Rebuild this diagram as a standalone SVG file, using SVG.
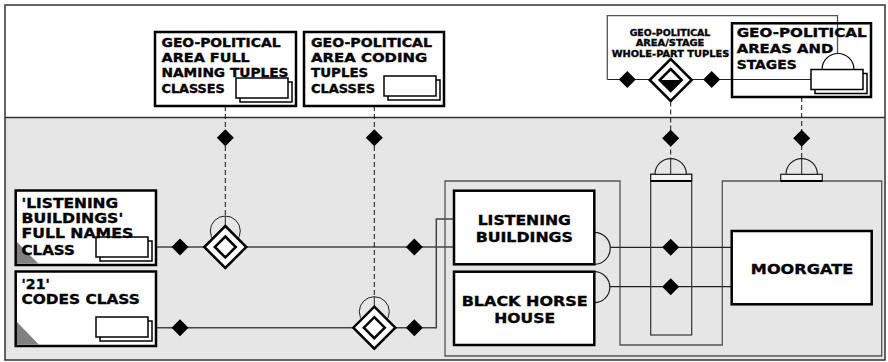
<svg xmlns="http://www.w3.org/2000/svg" width="888" height="362" viewBox="0 0 888 362">
<style>
.t{font-family:"DejaVu Sans","Liberation Sans",sans-serif;font-weight:bold;fill:#000;stroke:#000;stroke-width:0.35}
.box{fill:#fff;stroke:#000;stroke-width:2.5}
.frame{fill:none;stroke:#555;stroke-width:1.3}
.ln{fill:none;stroke:#444;stroke-width:1.5}
.ln2{fill:none;stroke:#222;stroke-width:1.2}
.dash{fill:none;stroke:#111;stroke-width:1;stroke-dasharray:5,3}
.card{fill:#fff;stroke:#000;stroke-width:1.5}
.corner{fill:#808080}
.dome{fill:#e6e6e6;stroke:#222;stroke-width:1.2}
</style>
<defs>
<path id="sd" d="M0,-8.5 L8.5,0 L0,8.5 L-8.5,0 Z" fill="#000"/>
<g id="bd"><path d="M0,-21 L21,0 L0,21 L-21,0 Z" fill="#fff" stroke="#000" stroke-width="2.5"/><path d="M0,-10.5 L10.5,0 L0,10.5 L-10.5,0 Z" fill="#fff" stroke="#000" stroke-width="2.5"/></g>
<g id="cards"><rect x="4" y="4" width="52" height="20" class="card"/><rect x="0" y="0" width="52" height="20" class="card"/></g>
</defs>
<rect x="0" y="0" width="888" height="362" fill="#fff"/>
<rect x="5" y="117.5" width="880" height="243" fill="#e6e6e6"/>
<rect x="5" y="5" width="880" height="355" fill="none" stroke="#333" stroke-width="1.5"/>
<line x1="5" y1="117.5" x2="885" y2="117.5" stroke="#333" stroke-width="1.5"/>

<g id="group-frames">
<polygon class="frame" points="445,181 620,181 620,345 722.3,345 722.3,181 881.7,181 881.7,356 445,356"/>
</g>

<g id="connectors">
<path class="ln" d="M152,247 H454"/>
<path class="ln" d="M152,327.7 H436.3 V219 H454"/>
<path class="ln2" d="M594.3,232.3 A16,16 0 0 1 594.3,264.3"/>
<path class="ln2" d="M610.3,247.3 H731.7"/>
<path class="ln2" d="M594.3,271.7 A15.5,15.5 0 0 1 594.3,302.7"/>
<path class="ln2" d="M609.8,286.7 H731.7"/>
<path class="dash" d="M225.3,106 V216"/>
<path class="dash" d="M374.3,106 V296.7"/>
<path class="dash" d="M670.7,101.5 V158.6"/>
<path class="dash" d="M801.7,97 V158.6"/>
<line x1="225.3" y1="216" x2="225.3" y2="226" stroke="#222" stroke-width="1"/>
<line x1="374.3" y1="296.7" x2="374.3" y2="306.7" stroke="#222" stroke-width="1"/>
<circle cx="225.3" cy="231" r="15" fill="none" stroke="#222" stroke-width="1"/>
<circle cx="374.3" cy="311.7" r="15" fill="none" stroke="#222" stroke-width="1"/>
<use href="#sd" x="180" y="247"/>
<use href="#sd" x="414.3" y="247"/>
<use href="#sd" x="180" y="327.7"/>
<use href="#sd" x="414.3" y="327.7"/>
<use href="#sd" x="225.3" y="137.7"/>
<use href="#sd" x="374.3" y="137.7"/>
<use href="#sd" x="670.7" y="138.3"/>
<use href="#sd" x="801.7" y="138.3"/>
<use href="#sd" x="670.7" y="247.3"/>
<use href="#sd" x="670.7" y="286.7"/>
<use href="#bd" x="225.3" y="247"/>
<use href="#bd" x="374.3" y="327.7"/>
</g>

<g id="whole-part-column">
<rect x="650.7" y="174.3" width="41" height="160.7" fill="none" stroke="#333" stroke-width="1.2"/>
<rect x="650.7" y="174.3" width="41" height="6.7" fill="#f2f2f2" stroke="#222" stroke-width="1.2"/>
<line x1="650.7" y1="181" x2="691.7" y2="181" stroke="#000" stroke-width="2"/>
<path class="dome" d="M655,174.3 A15.7,15.7 0 0 1 686.4,174.3 Z"/>
<line x1="670.7" y1="158.6" x2="670.7" y2="174.3" stroke="#222" stroke-width="1"/>
</g>
<g id="moorgate-cap">
<rect x="780.7" y="174.3" width="41.6" height="6.7" fill="#f2f2f2" stroke="#222" stroke-width="1.2"/>
<line x1="780.7" y1="181" x2="822.3" y2="181" stroke="#000" stroke-width="2"/>
<path class="dome" d="M786,174.3 A15.7,15.7 0 0 1 817.4,174.3 Z"/>
<line x1="801.7" y1="158.6" x2="801.7" y2="174.3" stroke="#222" stroke-width="1"/>
</g>

<g id="whole-part-tuples">
<path class="frame" d="M607.3,79.5 V15.7 H837.5 V53.5"/>
<path class="ln2" d="M607.3,79.5 H811"/>
<use href="#sd" x="627.3" y="79.5"/>
<use href="#sd" x="711.7" y="79.5"/>
<path d="M670.7,59 L691.7,80 L670.7,101 L649.7,80 Z" fill="#fff" stroke="#000" stroke-width="2.5"/>
<path d="M659.7,80 L681.7,80 L670.7,91 Z" fill="#000"/>
<path d="M670.7,69 L681.7,80 L670.7,91 L659.7,80 Z" fill="none" stroke="#000" stroke-width="2.5"/>
<text class="t" font-size="9.5" text-anchor="middle" x="670" y="35.8" textLength="80.7" lengthAdjust="spacingAndGlyphs">GEO-POLITICAL</text>
<text class="t" font-size="9.5" text-anchor="middle" x="670" y="46.3" textLength="68.7" lengthAdjust="spacingAndGlyphs">AREA/STAGE</text>
<text class="t" font-size="9.5" text-anchor="middle" x="670.5" y="56.7" textLength="117.7" lengthAdjust="spacingAndGlyphs">WHOLE-PART TUPLES</text>
</g>

<g id="full-naming-tuples-classes">
<rect class="box" x="155" y="32" width="141" height="74"/>
<use href="#cards" x="236" y="78"/>
<text class="t" font-size="12" x="161.5" y="46.7" textLength="119" lengthAdjust="spacingAndGlyphs">GEO-POLITICAL</text>
<text class="t" font-size="12" x="161.5" y="61.7" textLength="88.3" lengthAdjust="spacingAndGlyphs">AREA FULL</text>
<text class="t" font-size="12" x="161.5" y="76.7" textLength="127" lengthAdjust="spacingAndGlyphs">NAMING TUPLES</text>
<text class="t" font-size="12" x="161.5" y="92.5" textLength="63.3" lengthAdjust="spacingAndGlyphs">CLASSES</text>
</g>

<g id="coding-tuples-classes">
<rect class="box" x="304" y="32" width="140" height="74"/>
<use href="#cards" x="384" y="76"/>
<text class="t" font-size="12" x="311" y="46.7" textLength="121" lengthAdjust="spacingAndGlyphs">GEO-POLITICAL</text>
<text class="t" font-size="12" x="311" y="61.7" textLength="116.3" lengthAdjust="spacingAndGlyphs">AREA CODING</text>
<text class="t" font-size="12" x="311" y="76.7" textLength="57.3" lengthAdjust="spacingAndGlyphs">TUPLES</text>
<text class="t" font-size="12" x="311" y="92.5" textLength="64" lengthAdjust="spacingAndGlyphs">CLASSES</text>
</g>

<g id="areas-and-stages">
<rect x="732" y="23.3" width="139" height="73.7" fill="none" stroke="#000" stroke-width="2.5"/>
<text class="t" font-size="13" x="736.7" y="37.3" textLength="130" lengthAdjust="spacingAndGlyphs">GEO-POLITICAL</text>
<text class="t" font-size="13" x="736.7" y="53.3" textLength="96.7" lengthAdjust="spacingAndGlyphs">AREAS AND</text>
<text class="t" font-size="13" x="736.7" y="69" textLength="60" lengthAdjust="spacingAndGlyphs">STAGES</text>
<path d="M822,69.5 A16,16 0 0 1 854,69.5 Z" fill="#fff" stroke="#000" stroke-width="1.2"/>
<use href="#cards" x="811" y="69.5"/>
</g>

<g id="full-names-class">
<rect class="box" x="15.7" y="190.5" width="140.3" height="74.5"/>
<polygon class="corner" points="17,242 17,263.7 38.5,263.7"/>
<use href="#cards" x="96" y="237"/>
<text class="t" font-size="14" x="21.5" y="207.5" textLength="96.7" lengthAdjust="spacingAndGlyphs">'LISTENING</text>
<text class="t" font-size="14" x="21.5" y="222.8" textLength="101.7" lengthAdjust="spacingAndGlyphs">BUILDINGS'</text>
<text class="t" font-size="14" x="21.5" y="238.3" textLength="111.7" lengthAdjust="spacingAndGlyphs">FULL NAMES</text>
<text class="t" font-size="14" x="21.5" y="254.5" textLength="53.3" lengthAdjust="spacingAndGlyphs">CLASS</text>
</g>

<g id="codes-class">
<rect class="box" x="15.7" y="271.5" width="140.3" height="74.5"/>
<polygon class="corner" points="17,322 17,344.7 39,344.7"/>
<use href="#cards" x="96" y="317"/>
<text class="t" font-size="14" x="21.5" y="288.7" textLength="28.3" lengthAdjust="spacingAndGlyphs">'21'</text>
<text class="t" font-size="14" x="21.5" y="304.3" textLength="118.3" lengthAdjust="spacingAndGlyphs">CODES CLASS</text>
</g>

<g id="listening-buildings">
<rect class="box" x="454" y="190.7" width="140.3" height="73.6"/>
<text class="t" font-size="14" text-anchor="middle" x="524.3" y="225" textLength="93.3" lengthAdjust="spacingAndGlyphs">LISTENING</text>
<text class="t" font-size="14" text-anchor="middle" x="524.3" y="241.7" textLength="97.3" lengthAdjust="spacingAndGlyphs">BUILDINGS</text>
</g>

<g id="black-horse-house">
<rect class="box" x="454" y="271.7" width="140.3" height="73.3"/>
<text class="t" font-size="14" text-anchor="middle" x="524.7" y="306" textLength="126" lengthAdjust="spacingAndGlyphs">BLACK HORSE</text>
<text class="t" font-size="14" text-anchor="middle" x="524.7" y="322.7" textLength="60.7" lengthAdjust="spacingAndGlyphs">HOUSE</text>
</g>

<g id="moorgate">
<rect class="box" x="731.7" y="231" width="140" height="73.3"/>
<text class="t" font-size="14" text-anchor="middle" x="802" y="274" textLength="102.3" lengthAdjust="spacingAndGlyphs">MOORGATE</text>
</g>
</svg>
